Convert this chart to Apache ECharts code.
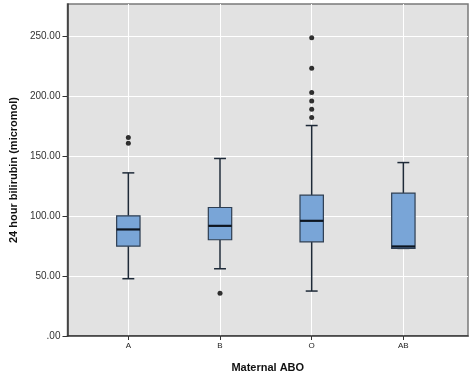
<!DOCTYPE html>
<html>
<head>
<meta charset="utf-8">
<script src="https://cdn.jsdelivr.net/npm/echarts@6/dist/echarts.min.js"></script>
<style>
html,body{margin:0;padding:0;background:#fff;}
#chart{width:474px;height:379px;}
</style>
</head>
<body>
<div id="chart"></div>
<script>
// Categories (maternal ABO group)
var categories = ['A', 'B', 'O', 'AB'];
// Box statistics: [lower whisker, Q1, median, Q3, upper whisker]
var boxStats = [
  [47.8, 75.0, 88.9, 100.3, 136.1],
  [56.1, 80.3, 91.9, 107.2, 148.1],
  [37.5, 78.6, 96.1, 117.5, 175.6],
  [73.1, 73.1, 74.7, 119.2, 144.7]
];
// Outliers: [category, value]
var outliers = [
  ['A', 165.6], ['A', 160.8],
  ['B', 35.6],
  ['O', 248.9], ['O', 223.3], ['O', 203.1], ['O', 196.1], ['O', 189.2], ['O', 182.2]
];
var yTicks = [0, 50, 100, 150, 200, 250];

var FONT = '"Liberation Sans", Arial, Helvetica, sans-serif';
var yMax = 277;

var boxData = boxStats.map(function (s, i) { return [i].concat(s); });

var chart = echarts.init(document.getElementById('chart'), null, {renderer: 'canvas'});
chart.setOption({
  animation: false,
  grid: [
    {left: 63, right: 6, top: 4, bottom: 43, show: true, backgroundColor: '#e2e2e2', borderColor: '#7a7a7a', borderWidth: 1.5},
    {left: 82.5, width: 366.7, top: 4, bottom: 43, show: false}
  ],
  xAxis: [
    {
      gridIndex: 0, type: 'value', min: 0, max: 1,
      axisLine: {show: true, lineStyle: {color: '#333', width: 1.5}},
      axisTick: {show: false}, axisLabel: {show: false}, splitLine: {show: false},
      name: 'Maternal ABO', nameLocation: 'middle', nameGap: 26,
      nameTextStyle: {fontFamily: FONT, fontSize: 11, fontWeight: 'bold', color: '#111'}
    },
    {
      gridIndex: 1, type: 'category', data: categories, boundaryGap: true,
      axisLine: {show: false},
      axisTick: {show: true, alignWithLabel: true, length: 4, lineStyle: {color: '#333', width: 1}},
      axisLabel: {fontFamily: FONT, fontSize: 8, color: '#222', margin: 6},
      splitLine: {show: true, alignWithLabel: true, lineStyle: {color: '#ffffff', width: 1}}
    }
  ],
  yAxis: [
    {
      gridIndex: 0, type: 'value', min: 0, max: yMax, interval: 50,
      axisLine: {show: true, lineStyle: {color: '#333', width: 1.5}},
      axisTick: {show: true, length: 5, lineStyle: {color: '#333'}},
      axisLabel: {
        fontFamily: FONT, fontSize: 10, color: '#333', margin: 7,
        showMaxLabel: false,
        formatter: function (v) { return yTicks.indexOf(v) < 0 ? '' : (v === 0 ? '.00' : v.toFixed(2)); }
      },
      splitLine: {show: true, showMaxLine: false, lineStyle: {color: '#ffffff', width: 1}},
      name: '24 hour bilirubin (micromol)', nameLocation: 'middle', nameGap: 45, nameRotate: 90,
      nameTextStyle: {fontFamily: FONT, fontSize: 11, fontWeight: 'bold', color: '#111'}
    },
    {
      gridIndex: 1, type: 'value', min: 0, max: yMax,
      show: false, splitLine: {show: false}
    }
  ],
  series: [
    {
      type: 'custom', xAxisIndex: 1, yAxisIndex: 1, z: 3,
      data: boxData,
      encode: {x: 0, y: [1, 2, 3, 4, 5]},
      renderItem: function (params, api) {
        var c = api.value(0);
        var band = api.size([1, 0])[0];
        var bw = band * 0.255 / 2;
        var cw = band * 0.13 / 2;
        var pLow = api.coord([c, api.value(1)]);
        var pQ1 = api.coord([c, api.value(2)]);
        var pMed = api.coord([c, api.value(3)]);
        var pQ3 = api.coord([c, api.value(4)]);
        var pHigh = api.coord([c, api.value(5)]);
        var x = pMed[0];
        var stroke = {stroke: '#1e2a38', lineWidth: 1.5};
        return {
          type: 'group',
          children: [
            {type: 'line', shape: {x1: x, y1: pQ3[1], x2: x, y2: pHigh[1]}, style: stroke},
            {type: 'line', shape: {x1: x, y1: pQ1[1], x2: x, y2: pLow[1]}, style: stroke},
            {type: 'line', shape: {x1: x - cw, y1: pHigh[1], x2: x + cw, y2: pHigh[1]}, style: stroke},
            {type: 'line', shape: {x1: x - cw, y1: pLow[1], x2: x + cw, y2: pLow[1]}, style: stroke},
            {type: 'rect', shape: {x: x - bw, y: pQ3[1], width: bw * 2, height: pQ1[1] - pQ3[1]},
              style: {fill: '#79a5d7', stroke: '#2e3e52', lineWidth: 1.2}},
            {type: 'line', shape: {x1: x - bw, y1: pMed[1], x2: x + bw, y2: pMed[1]},
              style: {stroke: '#0d1520', lineWidth: 2.2}}
          ]
        };
      }
    },
    {
      type: 'scatter', xAxisIndex: 1, yAxisIndex: 1, z: 4,
      data: outliers, symbol: 'circle', symbolSize: 5,
      itemStyle: {color: '#000'}
    }
  ]
});
</script>
</body>
</html>
